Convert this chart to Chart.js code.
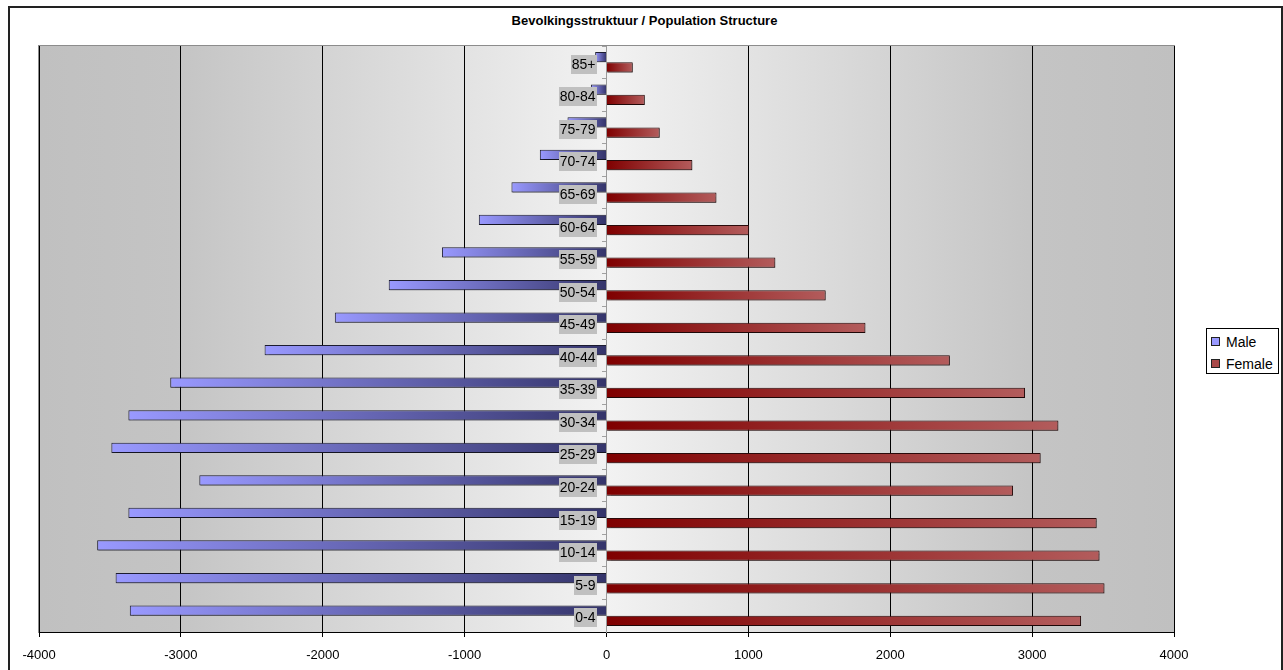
<!DOCTYPE html>
<html>
<head>
<meta charset="utf-8">
<script src="https://cdn.jsdelivr.net/npm/chart.js@4.4.1/dist/chart.umd.min.js"></script>
<style>
  html, body { margin: 0; padding: 0; background: #fff; overflow: hidden; }
  #wrap { position: relative; width: 1283px; height: 670px; }
  #frame { position: absolute; left: 8px; top: 6px; width: 1271px; height: 700px; border: 2px solid #222; border-bottom: none; }
  #title { position: absolute; left: 8px; width: 1273px; top: 13px; text-align: center;
           font: bold 13px "Liberation Sans", Arial, sans-serif; color: #000; }
  #chartBox { position: absolute; left: 0; top: 0; width: 1283px; height: 670px; }
  #legend { position: absolute; left: 1206px; top: 328px; width: 71px; height: 44px; background: #fff;
            border: 1px solid #000; font: 14px "Liberation Sans", Arial, sans-serif; }
  .item { position: absolute; left: 4px; height: 18px; line-height: 18px; white-space: nowrap; }
  .item i { display: inline-block; width: 7px; height: 7px; border: 1px solid #222; margin-right: 6px; vertical-align: 1px; }
</style>
</head>
<body>
<div id="wrap">
  <div id="frame"></div>
  <div id="title">Bevolkingsstruktuur / Population Structure</div>
  <div id="chartBox"><canvas id="pyramid"></canvas></div>
  <div id="legend">
    <div class="item" style="top:4px"><i style="background:#9999ff"></i>Male</div>
    <div class="item" style="top:26px"><i style="background:#a84848"></i>Female</div>
  </div>
</div>
<script>
/* ── data ── */
const ageGroups = ['85+', '80-84', '75-79', '70-74', '65-69', '60-64', '55-59', '50-54', '45-49',
                   '40-44', '35-39', '30-34', '25-29', '20-24', '15-19', '10-14', '5-9', '0-4'];
const male   = [-80, -110, -275, -470, -670, -900, -1160, -1535, -1915,
                -2410, -3075, -3370, -3490, -2870, -3370, -3590, -3460, -3360];
const female = [185, 270, 375, 605, 775, 1005, 1190, 1545, 1825,
                2420, 2950, 3185, 3060, 2865, 3455, 3475, 3510, 3345];
const xTicks = [-4000, -3000, -2000, -1000, 0, 1000, 2000, 3000, 4000];

const FONT = '"Liberation Sans", Arial, sans-serif';

// horizontal gradient along each bar, from the zero line out to the bar end
function barFill(c, atZero, atEnd) {
  const chart = c.chart;
  if (!chart.chartArea || !c.parsed) return atEnd;
  const sx = chart.scales.x;
  const p0 = sx.getPixelForValue(0), p1 = sx.getPixelForValue(c.parsed.x);
  const g = chart.ctx.createLinearGradient(p0, 0, p1, 0);
  g.addColorStop(0, atZero);
  g.addColorStop(1, atEnd);
  return g;
}

// grey fill-effect behind the bars, light in the middle
const plotBg = {
  id: 'plotBg',
  beforeDraw(chart) {
    const { ctx, chartArea: a } = chart;
    const g = ctx.createLinearGradient(a.left, 0, a.right, 0);
    g.addColorStop(0, '#c0c0c0');
    g.addColorStop(0.12, '#c4c4c4');
    g.addColorStop(0.5, '#f2f2f2');
    g.addColorStop(0.88, '#c4c4c4');
    g.addColorStop(1, '#c0c0c0');
    ctx.save();
    ctx.fillStyle = g;
    ctx.fillRect(a.left, a.top, a.right - a.left, a.bottom - a.top);
    ctx.strokeStyle = '#8c8c8c';
    ctx.lineWidth = 1;
    ctx.strokeRect(a.left - 0.5, a.top - 0.5, a.right - a.left + 1, a.bottom - a.top + 1);
    ctx.restore();
  }
};

// soft drop shadow under the bars
const barShadow = {
  id: 'barShadow',
  beforeDatasetsDraw(chart) {
    const ctx = chart.ctx;
    ctx.save();
    ctx.shadowColor = 'rgba(0,0,0,0.3)';
    ctx.shadowOffsetX = 1;
    ctx.shadowOffsetY = 1;
    ctx.shadowBlur = 1;
  },
  afterDatasetsDraw(chart) {
    chart.ctx.restore();
  }
};

// age-group labels sit on the zero line, on a grey box, above the bars
const ageLabels = {
  id: 'ageLabels',
  afterDatasetsDraw(chart) {
    const { ctx, scales: { x, y } } = chart;
    const right = x.getPixelForValue(0) - 11;
    ctx.save();
    ctx.shadowColor = 'transparent';
    ctx.font = '14px ' + FONT;
    ctx.textAlign = 'right';
    ctx.textBaseline = 'middle';
    y.ticks.forEach((t, i) => {
      const cy = Math.round(y.getPixelForTick(i) + 1.5);
      const label = ageGroups[i];
      const w = ctx.measureText(label).width;
      ctx.fillStyle = '#c0c0c0';
      ctx.fillRect(Math.round(right - w - 1), cy - 9, Math.ceil(w + 2), 19);
      ctx.fillStyle = '#000';
      ctx.fillText(label, right, cy + 1);
    });
    ctx.restore();
  }
};

new Chart(document.getElementById('pyramid'), {
  type: 'bar',
  data: {
    labels: ageGroups,
    datasets: [
      { label: 'Male', data: male,
        backgroundColor: c => barFill(c, '#34346a', '#9999ff'),
        borderColor: '#1c1c30', borderWidth: 1 },
      { label: 'Female', data: female,
        backgroundColor: c => barFill(c, '#7f0000', '#b35c5c'),
        borderColor: '#2a0a0a', borderWidth: 1 }
    ]
  },
  options: {
    indexAxis: 'y',
    responsive: true,
    maintainAspectRatio: false,
    animation: false,
    categoryPercentage: 0.63,
    barPercentage: 1,
    layout: { padding: { left: 39, right: 109, top: 46, bottom: 6 } },
    plugins: { legend: { display: false }, title: { display: false }, tooltip: { enabled: false } },
    scales: {
      x: {
        min: -4000, max: 4000,
        afterBuildTicks: s => { s.ticks = xTicks.map(v => ({ value: v })); },
        afterFit: s => { s.height = 32; },
        grid: {
          color: c => (c.tick && c.tick.value === 0) ? 'rgba(0,0,0,0)' : '#000',
          tickColor: '#000', tickLength: 5, lineWidth: 1
        },
        border: { color: '#000', width: 1 },
        ticks: { color: '#000', padding: 11, font: { family: FONT, size: 13 }, callback: v => String(v) }
      },
      y: {
        position: { x: 0 },
        grid: { drawOnChartArea: false, tickLength: 4, tickColor: '#a0a0a0' },
        border: { color: '#9a9a9a', width: 1 },
        ticks: { display: false }
      }
    }
  },
  plugins: [plotBg, barShadow, ageLabels]
});
</script>
</body>
</html>
